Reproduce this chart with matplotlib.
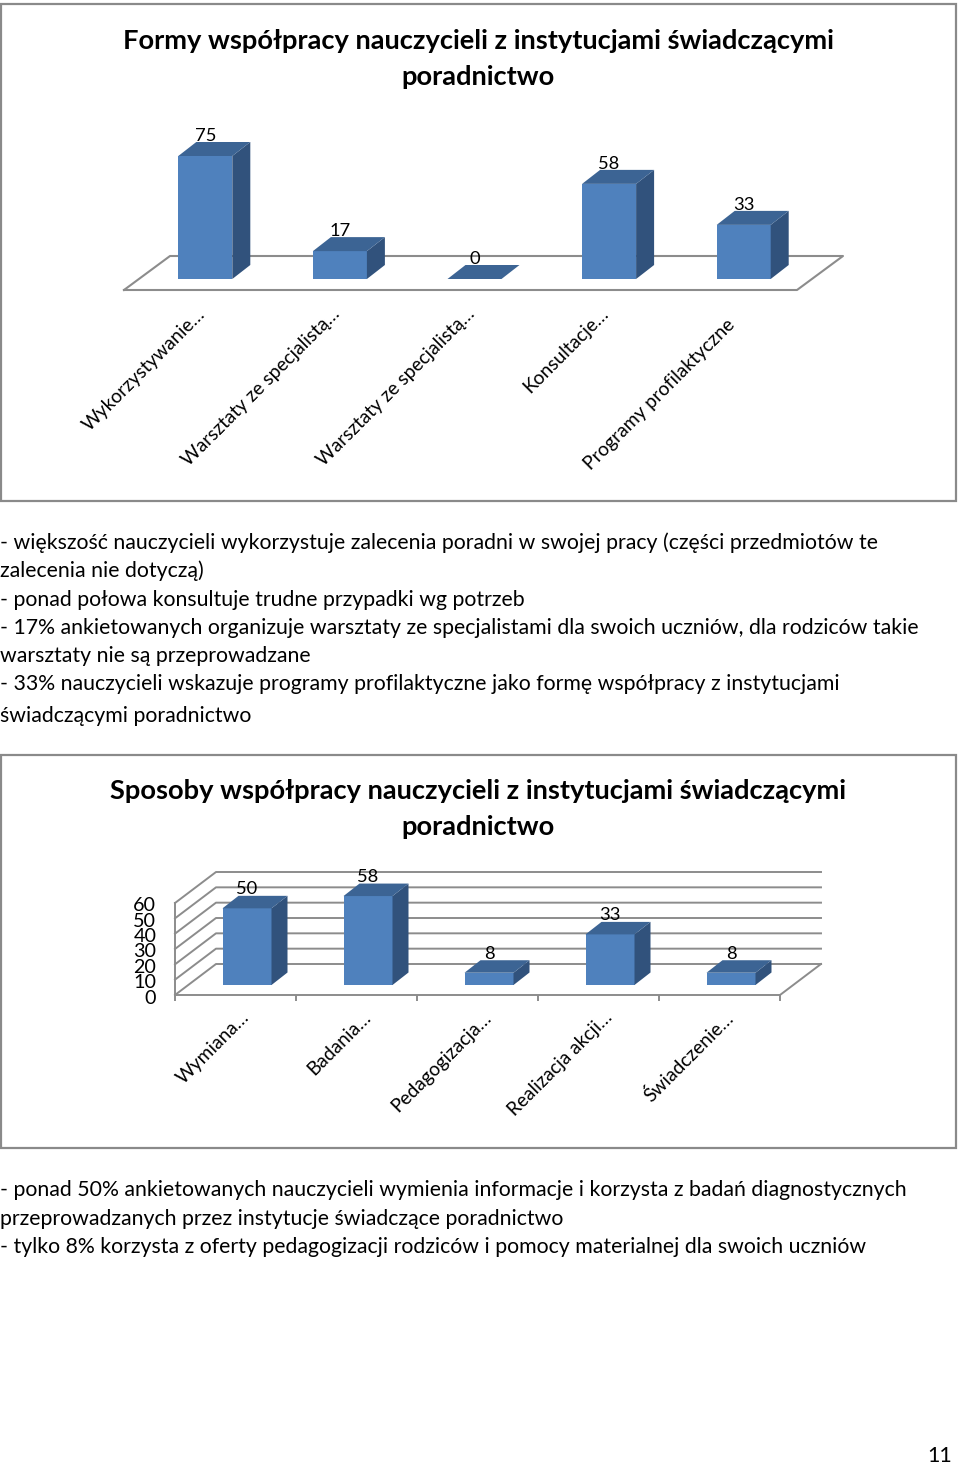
import matplotlib
matplotlib.use('Agg')
import matplotlib.pyplot as plt
from matplotlib.patches import Rectangle
from matplotlib.transforms import ScaledTranslation

W, H = 960, 1464
plt.rcParams['font.family'] = ['Lato', 'DejaVu Sans']

# data
cats1 = ['Wykorzystywanie…', 'Warsztaty ze specjalistą…', 'Warsztaty ze specjalistą…',
         'Konsultacje…', 'Programy profilaktyczne']
vals1 = [75, 17, 0, 58, 33]
title1 = ['Formy współpracy nauczycieli z instytucjami świadczącymi', 'poradnictwo']

cats2 = ['Wymiana…', 'Badania…', 'Pedagogizacja…', 'Realizacja akcji…', 'Świadczenie…']
vals2 = [50, 58, 8, 33, 8]
yticks2 = [0, 10, 20, 30, 40, 50, 60]
title2 = ['Sposoby współpracy nauczycieli z instytucjami świadczącymi', 'poradnictwo']

text1 = ['- większość nauczycieli wykorzystuje zalecenia poradni w swojej pracy (części przedmiotów te',
         'zalecenia nie dotyczą)',
         '- ponad połowa konsultuje trudne przypadki wg potrzeb',
         '- 17% ankietowanych organizuje warsztaty ze specjalistami dla swoich uczniów, dla rodziców takie',
         'warsztaty nie są przeprowadzane',
         '- 33% nauczycieli wskazuje programy profilaktyczne jako formę współpracy z instytucjami',
         'świadczącymi poradnictwo']
text2 = ['- ponad 50% ankietowanych nauczycieli wymienia informacje i korzysta z badań diagnostycznych',
         'przeprowadzanych przez instytucje świadczące poradnictwo',
         '- tylko 8% korzysta z oferty pedagogizacji rodziców i pomocy materialnej dla swoich uczniów']

GRAY = '#8c8c8c'
FRONT = '#4f81bd'
TOP = '#3c6494'
SIDE = '#31527c'
BODY_SIZE = 15.27
TITLE_SIZE = 19.65
LABEL_SIZE = 13.2


def px_axes(fig, left, right, base, top):
    ax = fig.add_axes([left / W, 1 - base / H, (right - left) / W, (base - top) / H])
    ax.patch.set_visible(False)
    for s in ax.spines.values():
        s.set_visible(False)
    return ax


def draw_bars(ax, vals, sx, sy, width, off, depth, lab_gap):
    # sx, sy: pixels per category / per unit, the rest is given in pixels
    ox, oy = off[0] / sx, off[1] / sy
    dx, dy = depth[0] / sx, depth[1] / sy
    w = width / sx
    for i, v in enumerate(vals):
        xl, xr = i + ox - w / 2, i + ox + w / 2
        b = oy
        ax.bar(i + ox, v, w, bottom=b, color=FRONT, zorder=3, clip_on=False)
        ax.fill([xr, xr + dx, xr + dx, xr], [b, b + dy, b + v + dy, b + v],
                color=SIDE, lw=0, zorder=3, clip_on=False)
        ax.fill([xl, xr, xr + dx, xl + dx], [b + v, b + v, b + v + dy, b + v + dy],
                color=TOP, lw=0, zorder=3, clip_on=False)
        ax.annotate(str(v), (i + ox, b + v), xytext=(0, lab_gap * 0.72), textcoords='offset points',
                    ha='center', va='center', fontsize=LABEL_SIZE, color='black', zorder=5,
                    annotation_clip=False)


def cat_labels(ax, cats, shift, drop):
    for i, c in enumerate(cats):
        # the one label without an ellipsis sits a bit lower and further left
        s, d = (shift, drop) if c.endswith('…') else (shift - 9, drop + 11)
        ax.annotate(c, (i, 0), xytext=(s * 0.72, -d * 0.72), textcoords='offset points',
                    rotation=45, rotation_mode='anchor', ha='right', va='top',
                    fontsize=LABEL_SIZE + 0.6, annotation_clip=False)


def title(fig, lines, y0):
    for k, t in enumerate(lines):
        fig.text(478 / W, 1 - (y0 + 2 + 36 * k) / H, t, ha='center', va='center',
                 fontsize=TITLE_SIZE, fontweight='bold')


fig = plt.figure(figsize=(W / 100, H / 100), dpi=100, facecolor='white')

# chart frames
for (x0, y0, x1, y1) in [(1, 4, 956, 501), (1, 755, 956, 1148)]:
    fig.add_artist(Rectangle((x0 / W, 1 - y1 / H), (x1 - x0) / W, (y1 - y0) / H,
                             transform=fig.transFigure, fill=False, ec='#8a8a8a', lw=1.6))

# first chart
title(fig, title1, 39)
ax1 = px_axes(fig, 124, 797, 290, 167)
ax1.set_xlim(-0.5, 4.5)
ax1.set_ylim(0, 75)
ax1.set_xticks([])
ax1.set_yticks([])
sx1, sy1 = 134.6, 123 / 75
fx, fy = 46 / sx1, 34 / sy1
ax1.plot([-0.5, 4.5, 4.5 + fx, -0.5 + fx, -0.5], [0, 0, fy, fy, 0], color=GRAY, lw=1.5,
         zorder=1, clip_on=False)
draw_bars(ax1, vals1, sx1, sy1, 54, (14, 11), (18, 14), 20)
cat_labels(ax1, cats1, 5, 15)

# second chart
title(fig, title2, 789)
ax2 = px_axes(fig, 175, 780, 995, 903)
ax2.set_xlim(-0.5, 4.5)
ax2.set_ylim(0, 60)
sx2, sy2 = 121, 92 / 60
gx, gy = 41 / sx2, 31 / sy2
for t in yticks2:
    ax2.plot([-0.5, -0.5 + gx, 4.5 + gx], [t, t + gy, t + gy], color=GRAY, lw=1.4, zorder=1, clip_on=False)
ax2.plot([4.5, 4.5 + gx], [0, gy], color=GRAY, lw=1.4, zorder=1, clip_on=False)
ax2.spines['left'].set_visible(True)
ax2.spines['bottom'].set_visible(True)
ax2.spines['left'].set_color(GRAY)
ax2.spines['bottom'].set_color(GRAY)
ax2.spines['left'].set_linewidth(1.4)
ax2.spines['bottom'].set_linewidth(1.4)
ax2.set_yticks(yticks2)
ax2.set_xticks([-0.5, 0.5, 1.5, 2.5, 3.5, 4.5])
ax2.set_xticklabels([])
ax2.tick_params(axis='y', length=0, pad=13.5, labelsize=14.2)
ax2.tick_params(axis='x', length=4.5, width=1.4, color=GRAY)
for lab in ax2.get_yticklabels():
    lab.set_transform(lab.get_transform() + ScaledTranslation(0, -0.015, fig.dpi_scale_trans))
draw_bars(ax2, vals2, sx2, sy2, 49, (11.5, 10), (16, 12.5), 19)
cat_labels(ax2, cats2, 5, 13.5)

# body text
for lines, ys in [(text1, [542, 570, 599, 627, 655, 683, 715]), (text2, [1189, 1218, 1246])]:
    for t, y in zip(lines, ys):
        fig.text(0, 1 - (y + 7) / H, t, ha='left', va='baseline', fontsize=BODY_SIZE, color='black')

fig.text(940 / W, 1 - 1462 / H, '11', ha='center', va='baseline', fontsize=15.5)

fig.savefig('out.png', dpi=100, facecolor='white')
